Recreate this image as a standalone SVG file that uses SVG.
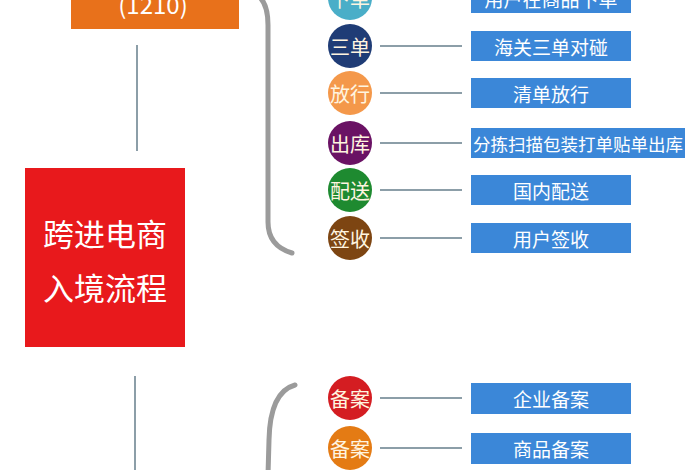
<svg xmlns="http://www.w3.org/2000/svg" width="700" height="470" viewBox="0 0 700 470">
<style>
.lbl{font-family:"Noto Sans CJK SC","Noto Sans",sans-serif;fill:#ffffff;text-anchor:middle;dominant-baseline:central}
.c{font-size:20px;fill:#fff5e0}
.b{font-size:19px}
.box{fill:#3b87d8}
.ln{stroke:#8c9ea8;stroke-width:2;fill:none}
.br{stroke:#9b9b9b;stroke-width:5;fill:none;stroke-linecap:round}
</style>
<rect width="700" height="470" fill="#ffffff"/>
<g id="connectors">
<line class="ln" x1="137" y1="45" x2="137" y2="151"/>
<line class="ln" x1="135" y1="376" x2="135" y2="470"/>
<path class="br" d="M250 -8 Q268 -4 268 25 L268 222 Q268 246 292 253"/>
<path class="br" d="M295 385 Q270 392 269 440 L268 475"/>
<line class="ln" x1="380" y1="-2" x2="462" y2="-2"/>
<line class="ln" x1="380" y1="46" x2="462" y2="46"/>
<line class="ln" x1="380" y1="93" x2="462" y2="93"/>
<line class="ln" x1="380" y1="143" x2="462" y2="143"/>
<line class="ln" x1="380" y1="190" x2="462" y2="190"/>
<line class="ln" x1="380" y1="238" x2="462" y2="238"/>
<line class="ln" x1="380" y1="398" x2="462" y2="398"/>
<line class="ln" x1="380" y1="448" x2="462" y2="448"/>
</g>
<g id="mode1210">
<rect x="71" y="-30" width="168" height="59" fill="#e8711b"/>
<text class="lbl" x="153" y="3" font-size="24" fill="#fde9d0">(1210)</text>
</g>
<g id="main">
<rect x="25" y="168" width="160" height="179" fill="#e8191c"/>
<text class="lbl" x="105" y="232" font-size="31">跨进电商</text>
<text class="lbl" x="105" y="286" font-size="31">入境流程</text>
</g>
<g id="n-xiadan"><circle cx="350" cy="-2" r="22" fill="#4aaec8"/><text class="lbl c" x="350" y="-2">下单</text>
<rect class="box" x="471" y="-17" width="160" height="30"/><text class="lbl b" x="551" y="-2">用户在商品下单</text></g>
<g id="n-sandan"><circle cx="350" cy="46" r="22" fill="#1f3c76"/><text class="lbl c" x="350" y="46">三单</text>
<rect class="box" x="471" y="31" width="160" height="30"/><text class="lbl b" x="551" y="46">海关三单对碰</text></g>
<g id="n-fangxing"><circle cx="350" cy="93" r="22" fill="#f4984a"/><text class="lbl c" x="350" y="93">放行</text>
<rect class="box" x="471" y="78" width="160" height="30"/><text class="lbl b" x="551" y="93">清单放行</text></g>
<g id="n-chuku"><circle cx="350" cy="143" r="22" fill="#6a1264"/><text class="lbl c" x="350" y="143">出库</text>
<rect class="box" x="471" y="128" width="214" height="30"/><text class="lbl" x="578" y="143" font-size="17.5">分拣扫描包装打单贴单出库</text></g>
<g id="n-peisong"><circle cx="350" cy="190" r="22" fill="#1e8a30"/><text class="lbl c" x="350" y="190">配送</text>
<rect class="box" x="471" y="175" width="160" height="30"/><text class="lbl b" x="551" y="190">国内配送</text></g>
<g id="n-qianshou"><circle cx="350" cy="238" r="22" fill="#7d4512"/><text class="lbl c" x="350" y="238">签收</text>
<rect class="box" x="471" y="223" width="160" height="30"/><text class="lbl b" x="551" y="238">用户签收</text></g>
<g id="n-beian1"><circle cx="350" cy="398" r="22" fill="#d41d22"/><text class="lbl c" x="350" y="398">备案</text>
<rect class="box" x="471" y="383" width="160" height="31"/><text class="lbl b" x="551" y="398">企业备案</text></g>
<g id="n-beian2"><circle cx="350" cy="448" r="22" fill="#e47b14"/><text class="lbl c" x="350" y="448">备案</text>
<rect class="box" x="471" y="433" width="160" height="31"/><text class="lbl b" x="551" y="448">商品备案</text></g>
</svg>
